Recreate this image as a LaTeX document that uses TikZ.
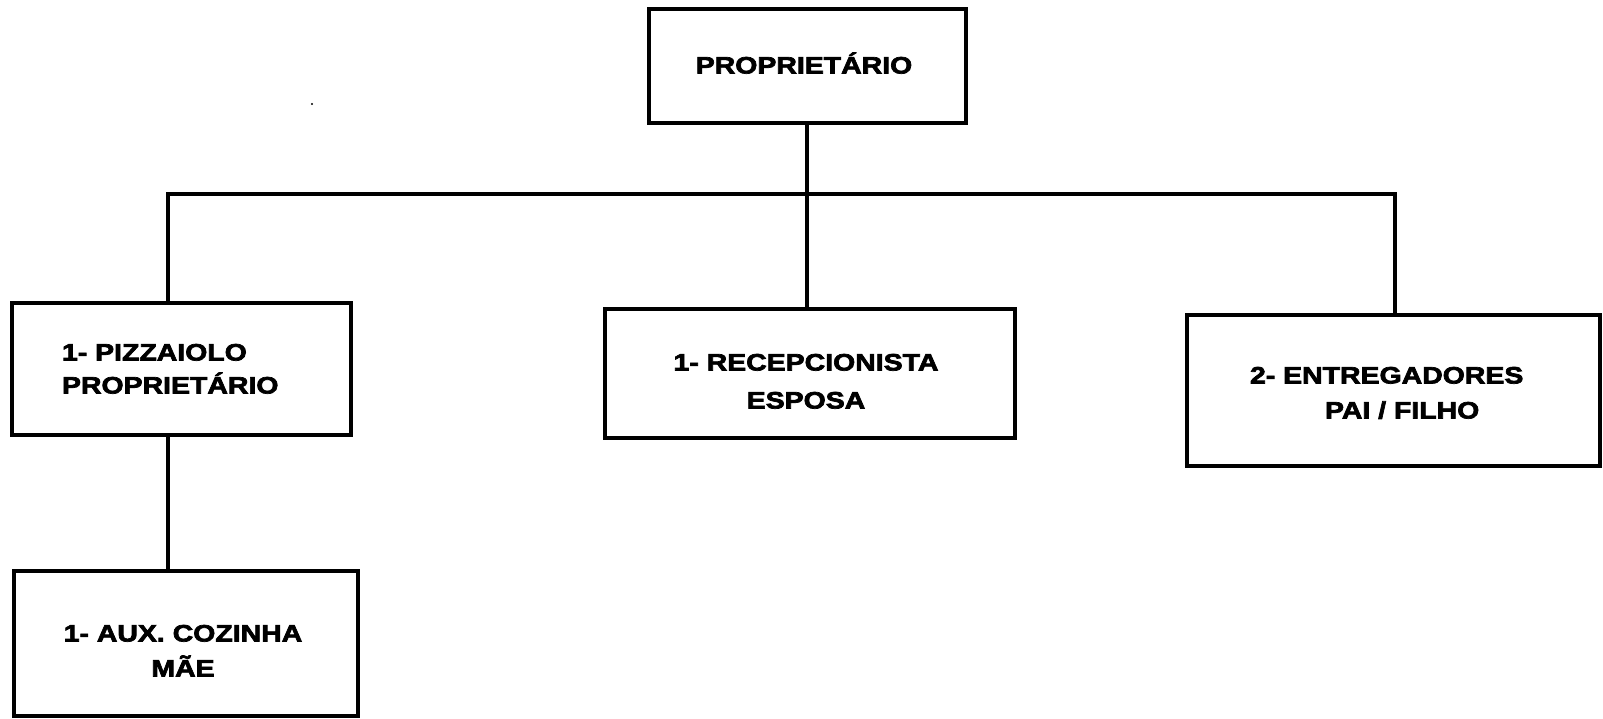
\documentclass[tikz,border=0pt]{standalone}
\usepackage{fontspec}
\newfontfamily\lblfont{Liberation Sans Bold}[FakeStretch=1.2,FakeBold=3]
\begin{document}
\begin{tikzpicture}[x=1pt,y=-1pt,
  box/.style={draw, line width=4.2pt, inner sep=0pt, outer sep=0pt},
  lbl/.style={font=\lblfont\fontsize{23.7}{28}\selectfont, inner sep=0pt, outer sep=0pt},
  conn/.style={line width=4.2pt}]
\useasboundingbox[fill=white] (0,0) rectangle (1603,719);
% boxes
\node[box, minimum width=317pt, minimum height=114pt] (top) at (807.5,66) {};
\node[box, minimum width=339pt, minimum height=132pt] (pizz) at (181.5,369) {};
\node[box, minimum width=344pt, minimum height=145pt] (aux) at (186,643.5) {};
\node[box, minimum width=410pt, minimum height=129pt] (rec) at (810,373.5) {};
\node[box, minimum width=413pt, minimum height=151pt] (ent) at (1393.5,390.5) {};
% labels
\node[lbl, anchor=base] (ttop) at (804,73.5) {PROPRIETÁRIO};
\node[lbl, anchor=base west] (tpizz1) at (62,360.5) {1- PIZZAIOLO};
\node[lbl, anchor=base west] (tpizz2) at (62,393.5) {PROPRIETÁRIO};
\node[lbl, anchor=base] (taux1) at (183,641.5) {1- AUX. COZINHA};
\node[lbl, anchor=base] (taux2) at (183,676.5) {MÃE};
\node[lbl, anchor=base] (trec1) at (806,370.5) {1- RECEPCIONISTA};
\node[lbl, anchor=base] (trec2) at (806,408.5) {ESPOSA};
\node[lbl, anchor=base west] (tent1) at (1250,383.5) {2- ENTREGADORES};
\node[lbl, anchor=base west] (tent2) at (1325,418.5) {PAI / FILHO};
% bus coordinates
\coordinate (busL) at (168,194);
\coordinate (busM) at (807,194);
\coordinate (busR) at (1395,194);
% connectors
\draw[conn] (top.south -| busM) -- (busM) -- (busM |- rec.north);
\draw[conn] (busL |- pizz.north) -- (busL) -- (busR) -- (busR |- ent.north);
\draw[conn] (busL |- pizz.south) -- (busL |- aux.north);
% stray dot
\fill (312,104) circle (1.2pt);
\end{tikzpicture}
\end{document}
